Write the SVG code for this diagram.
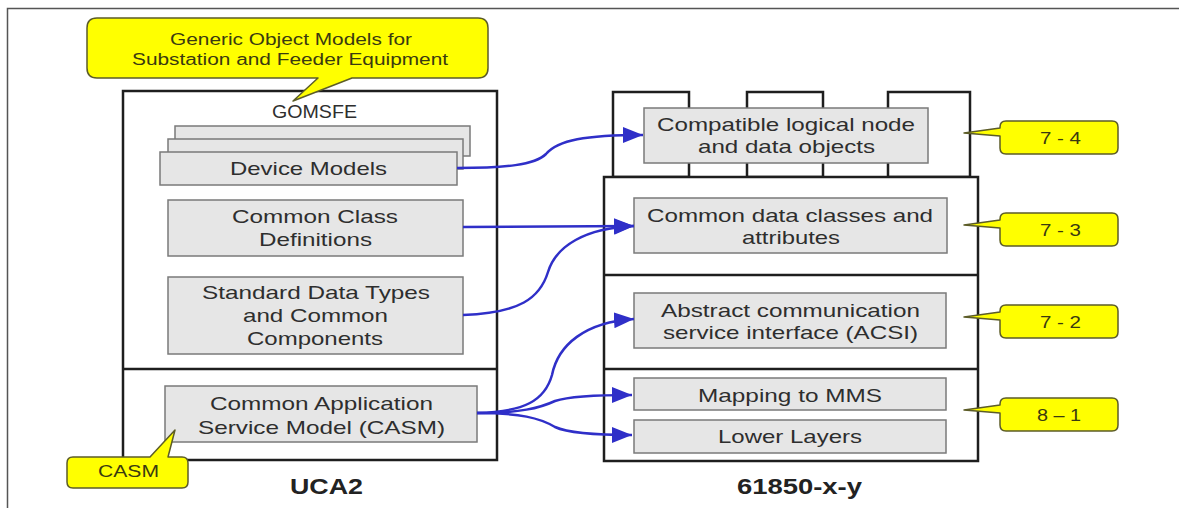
<svg xmlns="http://www.w3.org/2000/svg" width="1179" height="508" viewBox="0 0 1179 508">
  <style>
    .frame { fill: none; stroke: #555; stroke-width: 1.5; }
    .outer { fill: #fff; stroke: #1e1e1e; stroke-width: 2.5; }
    .rule { fill: none; stroke: #1e1e1e; stroke-width: 2.5; }
    .box { fill: #e6e6e6; stroke: #7a7a7a; stroke-width: 1.5; }
    .callout { fill: #ffff00; stroke: #5c5c28; stroke-width: 1.5; stroke-linejoin: round; }
    .t { font-family: "Liberation Sans", Arial, sans-serif; font-size: 18.5px; fill: #2e2e2e; }
    .ct { font-family: "Liberation Sans", Arial, sans-serif; font-size: 16px; fill: #3a3a10; }
    .lbl { font-family: "Liberation Sans", Arial, sans-serif; font-size: 22px; font-weight: bold; fill: #222; }
    .link { fill: none; stroke: #2f2fc8; stroke-width: 2.5; marker-end: url(#arrow); }
  </style>
  <defs>
    <marker id="arrow" markerUnits="userSpaceOnUse" markerWidth="20" markerHeight="16" refX="20" refY="8" orient="auto">
      <path d="M0,0 L20,8 L0,16 Z" fill="#2f2fc8"/>
    </marker>
    <!-- small yellow tag with a pointer on its left side -->
    <path id="tag" class="callout" d="M6,0 H112 Q118,0 118,6 V27 Q118,33 112,33 H6 Q0,33 0,27 V15 L-36,12 L0,7 V6 Q0,0 6,0 Z"/>
  </defs>

  <rect width="1179" height="508" fill="#fff"/>
  <path class="frame" d="M1179,8.5 H7.5 V508"/>

  <!-- UCA2 stack -->
  <g id="uca2">
    <rect class="outer" x="123" y="91" width="374" height="369"/>
    <line class="rule" x1="123" y1="369" x2="497" y2="369"/>
    <text class="lbl" x="290" y="494" textLength="73" lengthAdjust="spacingAndGlyphs">UCA2</text>
  </g>

  <g id="gomsfe-callout">
    <path class="callout" d="M97,18 H478 Q488,18 488,28 V68 Q488,78 478,78 H352 L293,101 L318,78 H97 Q87,78 87,68 V28 Q87,18 97,18 Z"/>
    <text class="ct" x="170" y="45" textLength="242" lengthAdjust="spacingAndGlyphs">Generic Object Models for</text>
    <text class="ct" x="132" y="65" textLength="316" lengthAdjust="spacingAndGlyphs">Substation and Feeder Equipment</text>
  </g>

  <g id="gomsfe">
    <text class="t" x="272" y="118" font-size="14.5" textLength="85" lengthAdjust="spacingAndGlyphs">GOMSFE</text>
  </g>

  <g id="device-models">
    <rect class="box" x="175" y="126" width="295" height="30"/>
    <rect class="box" x="168" y="139" width="295" height="30"/>
    <rect class="box" x="160" y="152" width="297" height="33"/>
    <text class="t" x="230" y="175" textLength="157" lengthAdjust="spacingAndGlyphs">Device Models</text>
  </g>

  <g id="common-class">
    <rect class="box" x="168" y="200" width="295" height="56"/>
    <text class="t" x="232" y="223" textLength="166" lengthAdjust="spacingAndGlyphs">Common Class</text>
    <text class="t" x="259" y="246" textLength="113" lengthAdjust="spacingAndGlyphs">Definitions</text>
  </g>

  <g id="std-data-types">
    <rect class="box" x="168" y="277" width="295" height="77"/>
    <text class="t" x="202" y="299" textLength="228" lengthAdjust="spacingAndGlyphs">Standard Data Types</text>
    <text class="t" x="243" y="322" textLength="145" lengthAdjust="spacingAndGlyphs">and Common</text>
    <text class="t" x="247" y="345" textLength="136" lengthAdjust="spacingAndGlyphs">Components</text>
  </g>

  <g id="casm">
    <rect class="box" x="165" y="386" width="312" height="56"/>
    <text class="t" x="210" y="410" textLength="223" lengthAdjust="spacingAndGlyphs">Common Application</text>
    <text class="t" x="198" y="434" textLength="247" lengthAdjust="spacingAndGlyphs">Service Model (CASM)</text>
  </g>

  <g id="casm-callout">
    <path class="callout" d="M73,457 H150 L175,430 L168,457 H182 Q188,457 188,463 V482 Q188,488 182,488 H73 Q67,488 67,482 V463 Q67,457 73,457 Z"/>
    <text class="ct" x="98" y="477" textLength="61" lengthAdjust="spacingAndGlyphs">CASM</text>
  </g>

  <!-- 61850 stack -->
  <g id="iec61850">
    <rect class="outer" x="613" y="92" width="76" height="85"/>
    <rect class="outer" x="747" y="92" width="76" height="85"/>
    <rect class="outer" x="888" y="92" width="82" height="85"/>
    <rect class="outer" x="604" y="177" width="374" height="284"/>
    <line class="rule" x1="604" y1="275" x2="978" y2="275"/>
    <line class="rule" x1="604" y1="369" x2="978" y2="369"/>
    <text class="lbl" x="737" y="494" textLength="125" lengthAdjust="spacingAndGlyphs">61850-x-y</text>
  </g>

  <g id="logical-nodes">
    <rect class="box" x="644" y="108" width="284" height="55"/>
    <text class="t" x="657" y="131" textLength="258" lengthAdjust="spacingAndGlyphs">Compatible logical node</text>
    <text class="t" x="698" y="153" textLength="177" lengthAdjust="spacingAndGlyphs">and data objects</text>
  </g>

  <g id="data-classes">
    <rect class="box" x="634" y="198" width="313" height="55"/>
    <text class="t" x="647" y="222" textLength="286" lengthAdjust="spacingAndGlyphs">Common data classes and</text>
    <text class="t" x="742" y="244" textLength="98" lengthAdjust="spacingAndGlyphs">attributes</text>
  </g>

  <g id="acsi">
    <rect class="box" x="634" y="293" width="312" height="55"/>
    <text class="t" x="661" y="317" textLength="259" lengthAdjust="spacingAndGlyphs">Abstract communication</text>
    <text class="t" x="663" y="339" textLength="255" lengthAdjust="spacingAndGlyphs">service interface (ACSI)</text>
  </g>

  <g id="mms">
    <rect class="box" x="634" y="378" width="312" height="32"/>
    <text class="t" x="698" y="402" textLength="184" lengthAdjust="spacingAndGlyphs">Mapping to MMS</text>
  </g>

  <g id="lower-layers">
    <rect class="box" x="634" y="420" width="312" height="33"/>
    <text class="t" x="718" y="443" textLength="144" lengthAdjust="spacingAndGlyphs">Lower Layers</text>
  </g>

  <!-- part tags -->
  <g id="tag-7-4">
    <use href="#tag" x="1000" y="121"/>
    <text class="ct" x="1040" y="144" textLength="41" lengthAdjust="spacingAndGlyphs">7 - 4</text>
  </g>
  <g id="tag-7-3">
    <use href="#tag" x="1000" y="213"/>
    <text class="ct" x="1040" y="236" textLength="41" lengthAdjust="spacingAndGlyphs">7 - 3</text>
  </g>
  <g id="tag-7-2">
    <use href="#tag" x="1000" y="305"/>
    <text class="ct" x="1040" y="328" textLength="41" lengthAdjust="spacingAndGlyphs">7 - 2</text>
  </g>
  <g id="tag-8-1">
    <use href="#tag" x="1000" y="398"/>
    <text class="ct" x="1037" y="421" textLength="44" lengthAdjust="spacingAndGlyphs">8 – 1</text>
  </g>

  <g id="connectors">
    <path class="link" d="M457,168 C505,168 535,165 546,154 C558,140 585,135 643,135"/>
    <path class="link" d="M463,227 L634,226"/>
    <path class="link" d="M463,315 C520,313 540,298 548,272 C556,246 585,228 634,226"/>
    <path class="link" d="M477,413 C525,412 545,400 552,375 C558,345 585,322 634,319"/>
    <path class="link" d="M477,413 C520,413 540,408 555,401 C570,396 600,395 632,395"/>
    <path class="link" d="M477,413 C520,413 540,418 555,427 C570,434 600,435 632,435"/>
  </g>
</svg>
